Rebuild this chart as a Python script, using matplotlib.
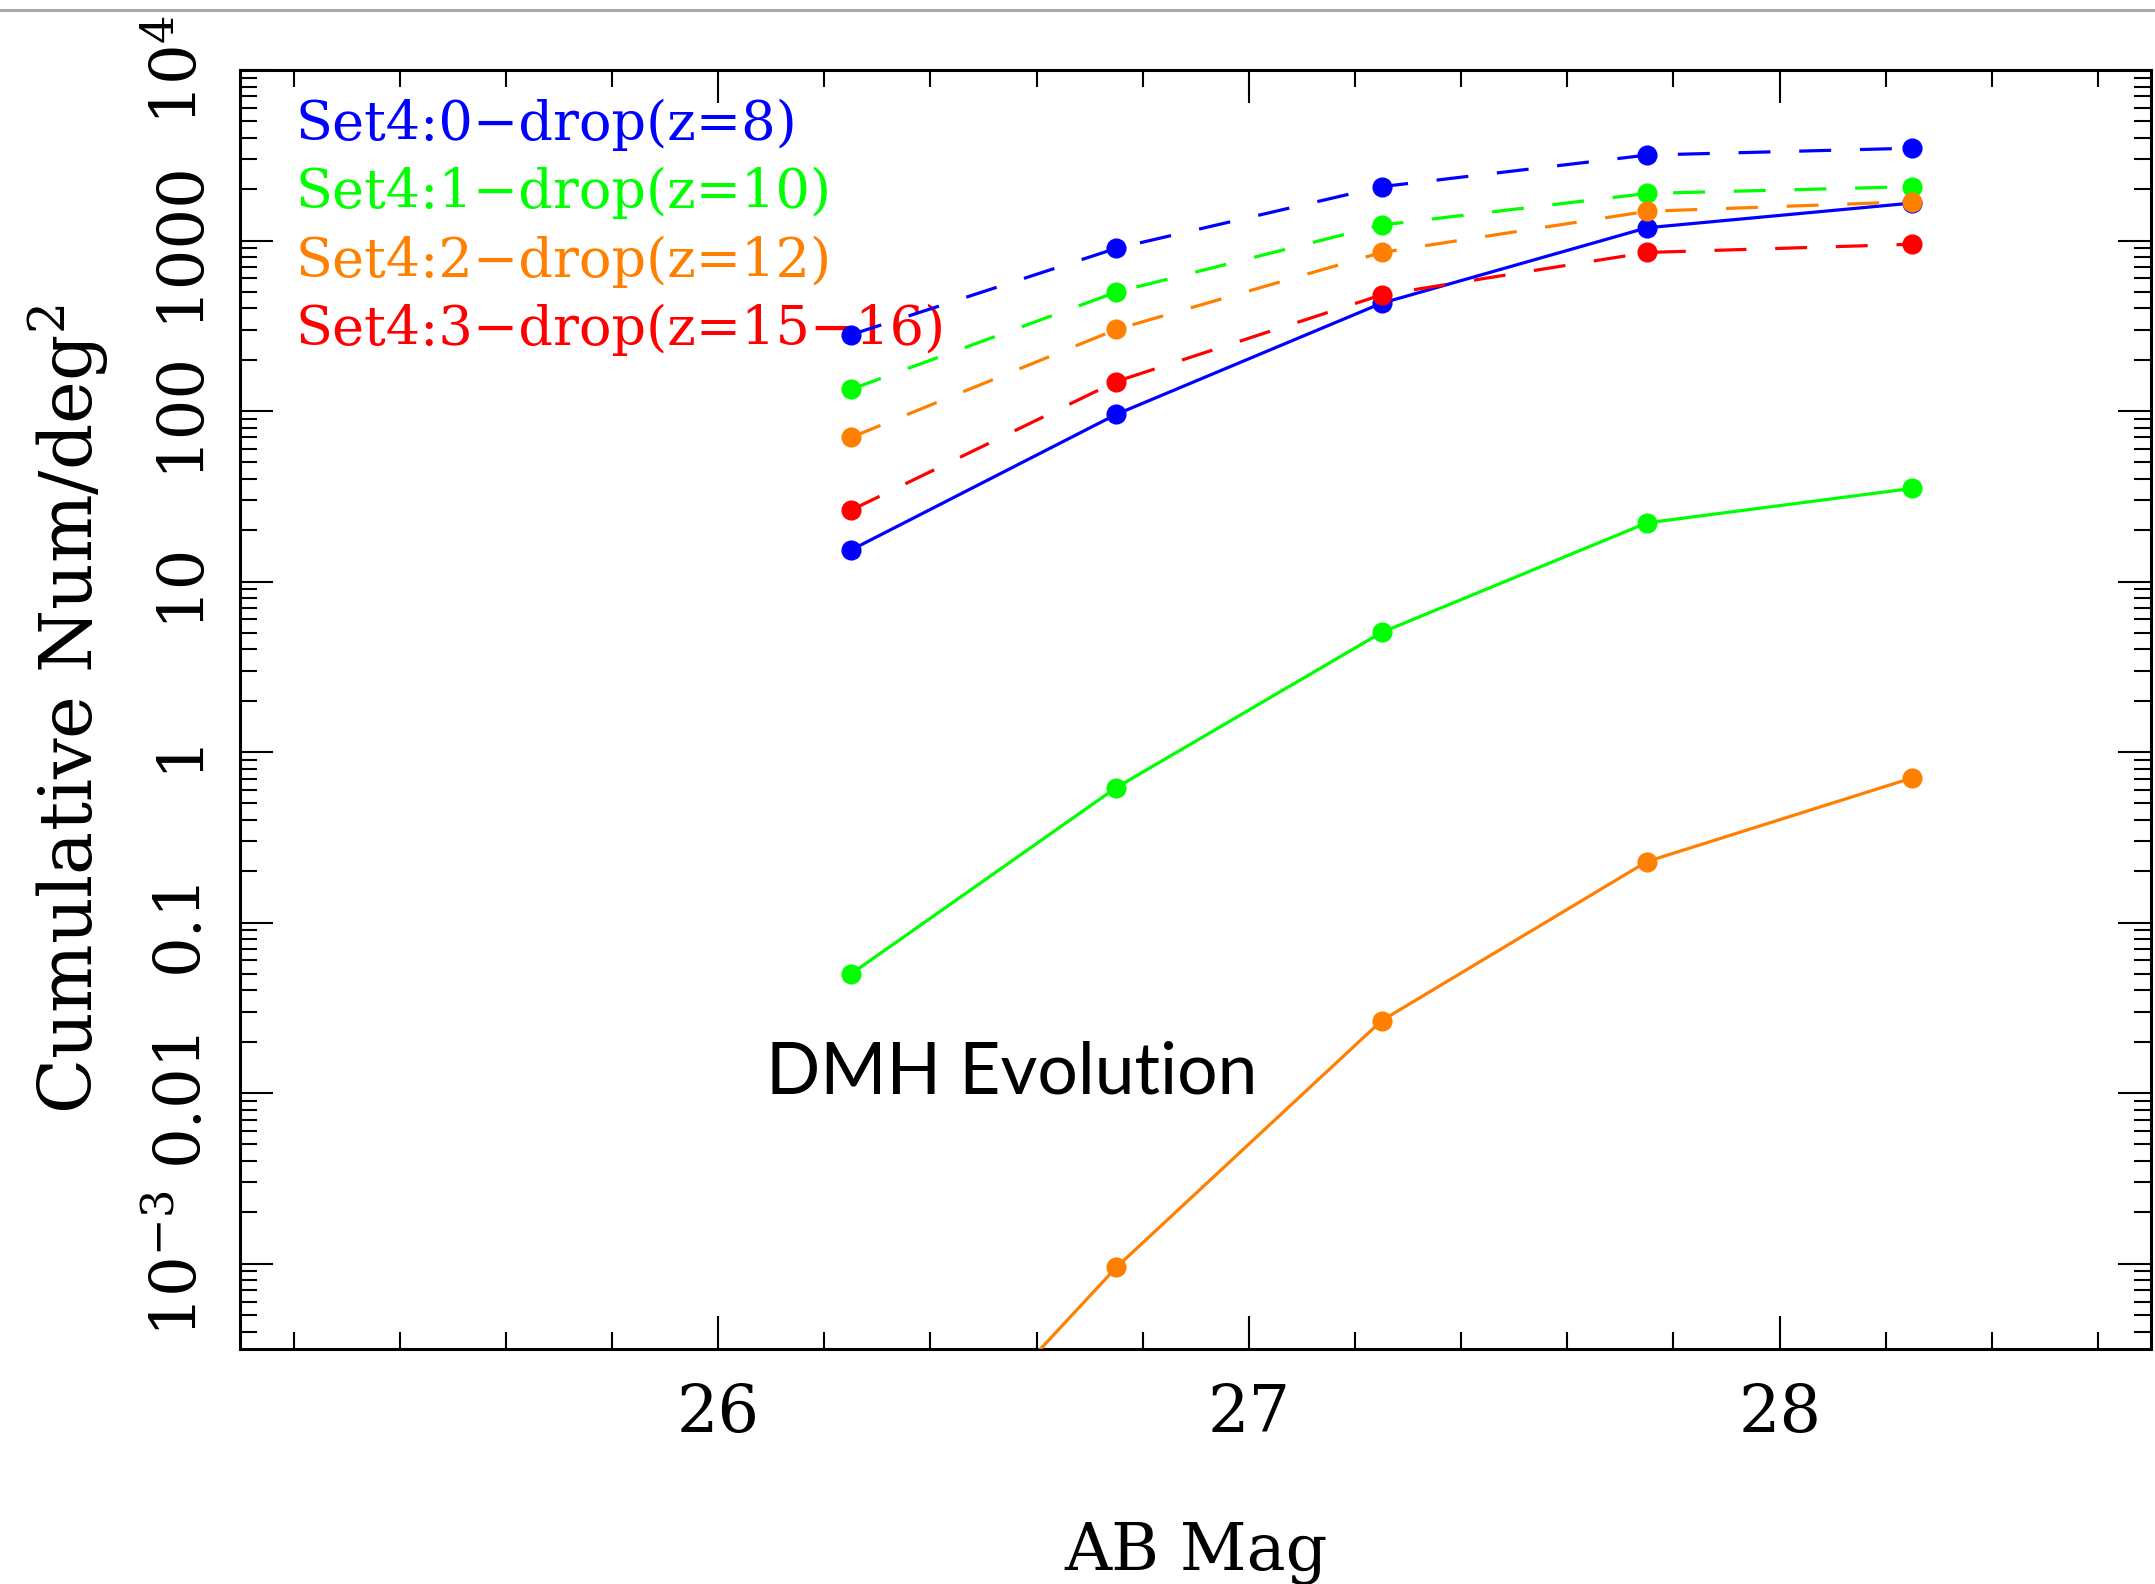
import matplotlib
matplotlib.use("Agg")
import matplotlib.pyplot as plt
from matplotlib.lines import Line2D
from matplotlib.ticker import FixedLocator, LogLocator, NullFormatter

# AB magnitude bins
mag = [26.25, 26.75, 27.25, 27.75, 28.25]

# dashed curves (one per drop set)
set0_dash = [280, 900, 2070, 3170, 3480]
set1_dash = [134, 498, 1233, 1888, 2070]
set2_dash = [70, 301, 851, 1483, 1690]
set3_dash = [26.2, 149, 480, 851, 951]

# solid curves (DMH evolution)
set0_solid = [15.3, 95.6, 429, 1188, 1659]
set1_solid = [0.0499, 0.619, 5.03, 22.1, 35.2]
set2_solid = [2.0e-5, 9.5e-4, 0.0266, 0.228, 0.706]

labels = ["Set4:0\u2212drop(z=8)", "Set4:1\u2212drop(z=10)",
          "Set4:2\u2212drop(z=12)", "Set4:3\u2212drop(z=15\u221216)"]
colors = ["#0000ff", "#00ff00", "#ff8000", "#ff0000"]

ytick_vals = [1e-3, 1e-2, 1e-1, 1, 10, 100, 1000, 1e4]
ytick_text = [r"$10^{-3}$", "0.01", "0.1", "1", "10", "100", "1000", r"$10^{4}$"]

plt.rcParams["font.family"] = "DejaVu Serif"
plt.rcParams["mathtext.fontset"] = "dejavuserif"

fig = plt.figure(figsize=(21.55, 15.84), dpi=100)
ax = fig.add_axes([0.1116, 0.1484, 0.8866, 0.8074])

lw = 2.3
ms = 13.5
dash = (0, (10, 9))

for ys, c in zip([set0_solid, set1_solid, set2_solid], colors):
    ax.plot(mag, ys, color=c, lw=lw, marker="o", ms=ms, zorder=3)

for ys, c in zip([set0_dash, set1_dash, set2_dash, set3_dash], colors):
    ax.plot(mag, ys, color=c, lw=lw, ls=dash, marker="o", ms=ms, zorder=3)

ax.set_yscale("log")
ax.set_xlim(25.1, 28.7)
ax.set_ylim(10 ** -3.5, 1e4)

ax.xaxis.set_major_locator(FixedLocator([26, 27, 28]))
ax.xaxis.set_minor_locator(FixedLocator([25.2, 25.4, 25.6, 25.8, 26.2, 26.4, 26.6, 26.8,
                                         27.2, 27.4, 27.6, 27.8, 28.2, 28.4, 28.6]))
ax.set_xticklabels(["26", "27", "28"])

ax.yaxis.set_major_locator(FixedLocator(ytick_vals))
ax.set_yticklabels(ytick_text)
ax.yaxis.set_minor_locator(LogLocator(base=10, subs=range(2, 10), numticks=20))
ax.yaxis.set_minor_formatter(NullFormatter())

ax.tick_params(which="both", direction="in", top=True, right=True, width=1.5)
ax.tick_params(which="major", length=24)
ax.tick_params(which="minor", length=12)
ax.tick_params(axis="x", which="major", labelsize=47, pad=24)
ax.tick_params(axis="y", which="major", labelsize=46, pad=22)
for t in ax.get_yticklabels():
    t.set_rotation(90)
    t.set_va("center")

for s in ax.spines.values():
    s.set_linewidth(2.2)

ax.set_ylabel("Cumulative Num/deg$^2$", fontsize=52)
ax.yaxis.set_label_coords(-0.068, 0.5)

fig.text(0.555, 0.0088, "AB Mag", fontsize=47, ha="center", va="baseline")

ys_txt = [0.9453, 0.8921, 0.8382, 0.785]
for lab, c, yy in zip(labels, colors, ys_txt):
    ax.text(0.029, yy, lab, color=c, fontsize=39, transform=ax.transAxes,
            va="baseline", ha="left", zorder=1)

ax.text(0.275, 0.1994, "DMH Evolution", fontsize=51.5, family="Lato",
        transform=ax.transAxes, va="baseline", ha="left")

# grey rule at the very top of the screenshot
fig.add_artist(Line2D([0, 1], [0.9937, 0.9937], transform=fig.transFigure,
                      color="#aaaaaa", lw=2.2))

fig.savefig("out.png", dpi=100)
